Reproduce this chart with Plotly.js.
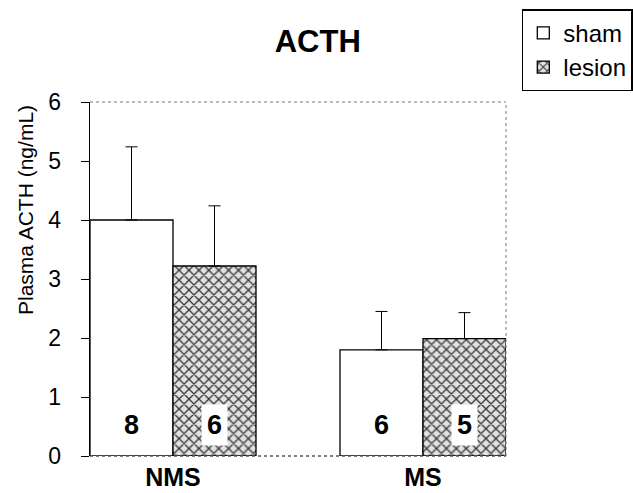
<!DOCTYPE html>
<html>
<head>
<meta charset="utf-8">
<script src="https://cdn.plot.ly/plotly-3.0.1.min.js"></script>
<style>html,body{margin:0;padding:0;background:#fff;}#chart{width:633px;height:493px;}</style>
</head>
<body>
<div id="chart"></div>
<script>
const categories = ["NMS", "MS"];
const seriesNames = ["sham", "lesion"];
const shamMean = [4.0, 1.8];
const shamSEM = [1.24, 0.65];
const lesionMean = [3.22, 1.99];
const lesionSEM = [1.02, 0.44];
const shamN = ["8", "6"];
const lesionN = ["6", "5"];
const yTicks = [0, 1, 2, 3, 4, 5, 6];

const xIdx = categories.map((c, i) => i);
const barW = 0.332;
const font = "Liberation Sans, Arial, Helvetica, sans-serif";

const sham = {
  type: "bar", name: seriesNames[0], x: xIdx, y: shamMean,
  width: barW, offset: -barW,
  marker: {color: "#ffffff", line: {color: "#000", width: 1.3}},
  error_y: {type: "data", symmetric: false, array: shamSEM, arrayminus: shamSEM.map(() => 0),
            color: "#000", thickness: 1, width: 6},
  hoverinfo: "none"
};
const lesion = {
  type: "bar", name: seriesNames[1], x: xIdx, y: lesionMean,
  width: barW, offset: 0,
  marker: {color: "#d0d0d0", line: {color: "#000", width: 1.3},
           pattern: {shape: "x", fgcolor: "#3a3a3a", bgcolor: "#e2e2e2", size: 7, solidity: 0.35}},
  error_y: {type: "data", symmetric: false, array: lesionSEM, arrayminus: lesionSEM.map(() => 0),
            color: "#000", thickness: 1, width: 6},
  hoverinfo: "none"
};

const pl = {l: 90, r: 127, t: 102, b: 37, W: 633, H: 493};
const annotations = [];
xIdx.forEach(i => {
  annotations.push({x: i - barW / 2, y: 0.53, xref: "x", yref: "y", text: "<b>" + shamN[i] + "</b>",
    showarrow: false, font: {family: font, size: 27, color: "#000"}, bgcolor: "#fff", borderpad: 4});
  annotations.push({x: i + barW / 2, y: 0.53, xref: "x", yref: "y", text: "<b>" + lesionN[i] + "</b>",
    showarrow: false, font: {family: font, size: 27, color: "#000"}, bgcolor: "#fff", borderpad: 5});
});
annotations.push({
  x: (25 - pl.l) / (pl.W - pl.l - pl.r), y: (pl.H - pl.b - 210) / (pl.H - pl.t - pl.b),
  xref: "paper", yref: "paper", xanchor: "center", yanchor: "middle",
  text: "Plasma ACTH (ng/mL)", textangle: -90,
  showarrow: false, font: {family: font, size: 21, color: "#000"}});

const layout = {
  width: 633, height: 493,
  margin: {l: pl.l, r: pl.r, t: pl.t, b: pl.b, autoexpand: false},
  paper_bgcolor: "#fff", plot_bgcolor: "#fff",
  font: {family: font, color: "#000"},
  title: {text: "<b>ACTH</b>", font: {family: font, size: 31, color: "#000"}, xref: "container", x: 0.502, xanchor: "center", y: 0.917, yanchor: "middle"},
  barmode: "overlay",
  showlegend: true,
  legend: {x: 1.038, y: 1.262, xanchor: "left", yanchor: "top", bordercolor: "#000", borderwidth: 1.5,
           font: {family: font, size: 24, color: "#000"}, bgcolor: "#fff", itemwidth: 30},
  xaxis: {range: [-barW, 1 + barW], tickvals: xIdx,
          ticktext: categories.map(c => "<b>" + c + "</b>"),
          tickfont: {family: font, size: 25, color: "#000"}, ticks: "", showgrid: false, zeroline: false,
          showline: false, fixedrange: true, ticklabelstandoff: 4},
  yaxis: {range: [0, 6], tickvals: yTicks, ticks: "outside", ticklen: 8, tickcolor: "#000", tickwidth: 1,
          showline: true, linecolor: "#000", linewidth: 1.3, showgrid: false, zeroline: false,
          tickfont: {family: font, size: 23, color: "#000"}, ticklabelstandoff: 15},
  shapes: [
    {type: "line", xref: "paper", yref: "paper", x0: 0, x1: 1, y0: 1, y1: 1, line: {color: "#777", width: 1, dash: "dot"}},
    {type: "line", xref: "paper", yref: "paper", x0: 1, x1: 1, y0: 0, y1: 1, line: {color: "#777", width: 1, dash: "dot"}},
    {type: "line", xref: "paper", yref: "paper", x0: 0, x1: 1, y0: 0, y1: 0, line: {color: "#555", width: 1.3, dash: "dot"}}
  ],
  annotations: annotations
};

Plotly.newPlot("chart", [sham, lesion], layout, {displayModeBar: false, staticPlot: true});
</script>
</body>
</html>
